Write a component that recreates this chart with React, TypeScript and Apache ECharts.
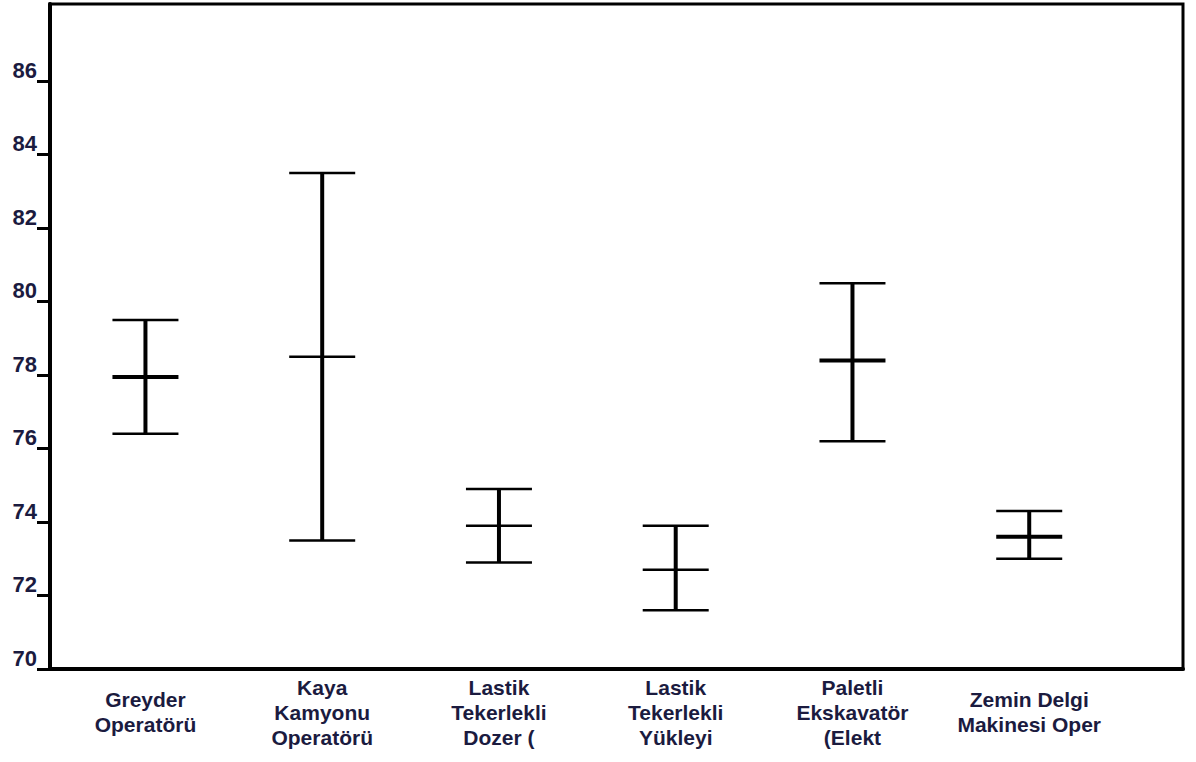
import React, { useEffect, useRef } from "react";
import * as echarts from "echarts";

// Machine operator groups (labels truncated as in the source table)
const categories = [
  "Greyder\nOperatörü",
  "Kaya\nKamyonu\nOperatörü",
  "Lastik\nTekerlekli\nDozer (",
  "Lastik\nTekerlekli\nYükleyi",
  "Paletli\nEkskavatör\n(Elekt",
  "Zemin Delgi\nMakinesi Oper",
];

// Interval bounds and means per group
const lowerValues = [76.4, 73.5, 72.9, 71.6, 76.2, 73.0];
const meanValues = [77.95, 78.5, 73.9, 72.7, 78.4, 73.6];
const upperValues = [79.5, 83.5, 74.9, 73.9, 80.5, 74.3];

const yTickValues = [70, 72, 74, 76, 78, 80, 82, 84, 86];

// Stroke width of the mean bar for each group
const meanStroke = [4, 2.5, 2.5, 2.5, 4, 4];

const FONT = "'Liberation Sans', Arial, Helvetica, sans-serif";
const TEXT_COLOR = "#1b1b3f";

export default function App() {
  const ref = useRef<HTMLDivElement>(null);

  useEffect(() => {
    if (!ref.current) return;
    const chart = echarts.init(ref.current, null, { renderer: "svg" });

    const data = categories.map((_, i) => [i, lowerValues[i], meanValues[i], upperValues[i]]);
    const capHalf = 33;

    chart.setOption({
      animation: false,
      backgroundColor: "#ffffff",
      grid: {
        left: 50,
        right: 13,
        top: 4,
        bottom: 93,
        show: true,
        borderColor: "#000",
        borderWidth: 3,
        backgroundColor: "transparent",
      },
      xAxis: {
        type: "value",
        min: -0.54,
        max: 5.87,
        axisLine: { show: true, onZero: false, lineStyle: { color: "#000", width: 4 } },
        axisTick: { show: false },
        splitLine: { show: false },
        axisLabel: {
          customValues: categories.map((_, i) => i),
          formatter: (v: number) => categories[Math.round(v)] ?? "",
          margin: 43,
          verticalAlign: "middle",
          align: "center",
          lineHeight: 25,
          fontSize: 21,
          fontWeight: "bold",
          fontFamily: FONT,
          color: TEXT_COLOR,
        },
      },
      yAxis: {
        type: "value",
        min: 70,
        max: 88.1,
        interval: 2,
        axisLine: { show: true, onZero: false, lineStyle: { color: "#000", width: 4 } },
        axisTick: {
          show: true,
          length: 13,
          customValues: yTickValues,
          lineStyle: { color: "#000", width: 3 },
        },
        splitLine: { show: false },
        axisLabel: {
          customValues: yTickValues,
          margin: 13,
          verticalAlign: "bottom",
          fontSize: 22,
          fontWeight: "bold",
          fontFamily: FONT,
          color: TEXT_COLOR,
        },
      },
      series: [
        {
          type: "custom",
          data,
          encode: { x: 0, y: [1, 2, 3] },
          renderItem: (params: any, api: any) => {
            const idx = api.value(0);
            const lo = api.coord([idx, api.value(1)]);
            const mid = api.coord([idx, api.value(2)]);
            const hi = api.coord([idx, api.value(3)]);
            const x = lo[0];
            const line = (x1: number, y1: number, x2: number, y2: number, w: number) => ({
              type: "line",
              shape: { x1, y1, x2, y2 },
              style: { stroke: "#000", lineWidth: w },
            });
            return {
              type: "group",
              children: [
                line(x, hi[1], x, lo[1], 4),
                line(x - capHalf, hi[1], x + capHalf, hi[1], 2.5),
                line(x - capHalf, lo[1], x + capHalf, lo[1], 2.5),
                line(x - capHalf, mid[1], x + capHalf, mid[1], meanStroke[params.dataIndex]),
              ],
            };
          },
        },
      ],
    });

    return () => chart.dispose();
  }, []);

  return (
    <div
      ref={ref}
      style={{ position: "absolute", left: 0, top: 0, width: 1196, height: 762, background: "#fff" }}
    />
  );
}
